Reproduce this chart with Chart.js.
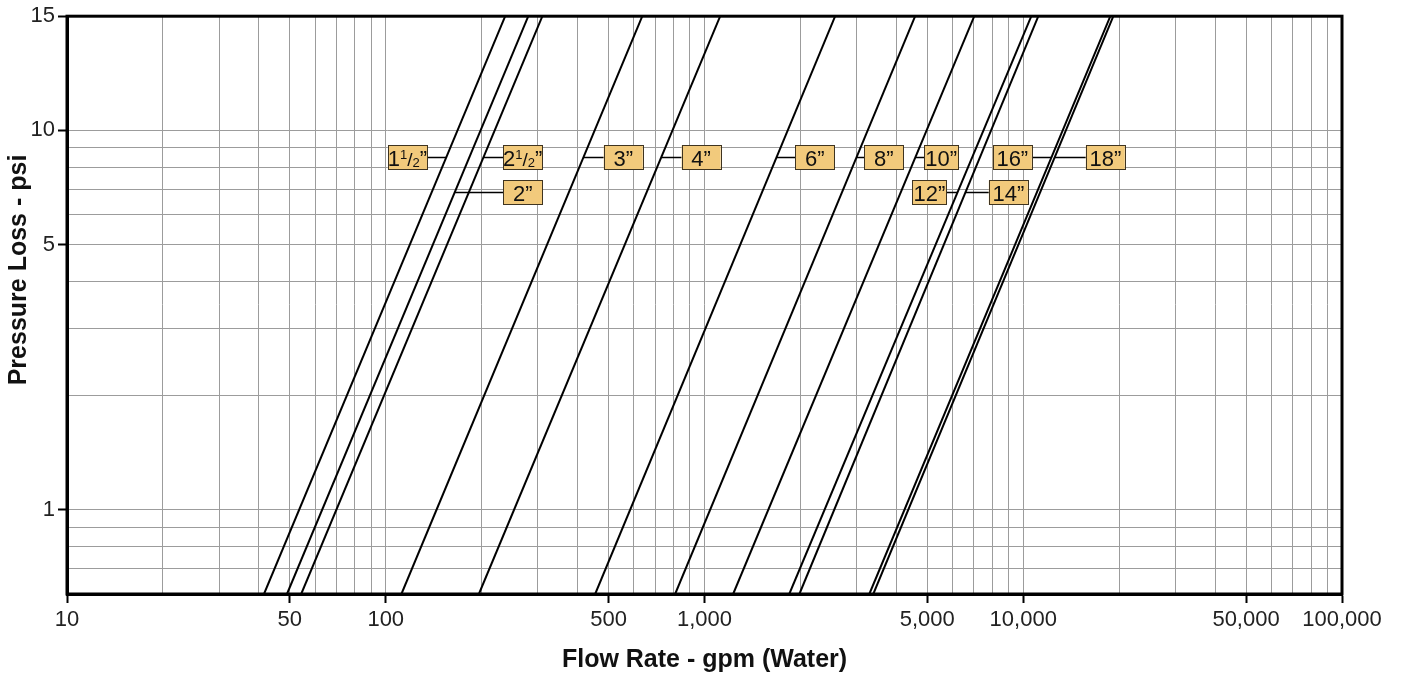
<!doctype html>
<html>

<head>
	<title>Pressure Loss Chart</title>
	<script src="https://cdn.jsdelivr.net/npm/chart.js@4/dist/chart.umd.min.js"></script>
	<style>
	html, body { margin: 0; padding: 0; background: #fff; }
	canvas { display: block; }
	</style>
</head>

<body>
	<canvas id="loss-canvas" width="1405" height="679"></canvas>
	<script>
	// pipe sizes (inches) and flow (gpm) where each curve crosses 0.6 psi and 20 psi
	var sizeNames = ['1\u00bd', '2', '2\u00bd', '3', '4', '6', '8', '10', '12', '14', '16', '18'];
	var flowLow  = [41.5, 49, 54.3, 112, 196, 454, 809, 1230, 1845, 1985, 3290, 3385];
	var flowHigh = [237, 280, 310, 638, 1120, 2570, 4580, 7020, 10600, 11150, 18760, 19170];
	var psiLow = 0.6;
	var psiHigh = 20;

	// where the size tags sit (gpm, psi)
	var labelFlow = [117, 269, 269, 556, 976, 2217, 3651, 5531, 5073, 8979, 9239, 18090];
	var labelPsi  = [8.5, 6.9, 8.5, 8.5, 8.5, 8.5, 8.5, 8.5, 6.9, 6.9, 8.5, 8.5];

	var xGrid = [10, 20, 30, 40, 50, 60, 70, 80, 90, 100, 200, 300, 400, 500, 600, 700, 800, 900,
		1000, 2000, 3000, 4000, 5000, 6000, 7000, 8000, 9000, 10000, 20000, 30000, 40000, 50000,
		60000, 70000, 80000, 90000, 100000];
	var xLabeled = [10, 50, 100, 500, 1000, 5000, 10000, 50000, 100000];
	var yGrid = [0.6, 0.7, 0.8, 0.9, 1, 2, 3, 4, 5, 6, 7, 8, 9, 10, 20];
	var yLabels = { 20: '15', 10: '10', 5: '5', 1: '1' };

	var FONT = '"Liberation Sans", Arial, Helvetica, sans-serif';

	function flowAt(i, psi) {
		var t = (Math.log(psi) - Math.log(psiLow)) / (Math.log(psiHigh) - Math.log(psiLow));
		return Math.exp(Math.log(flowLow[i]) + t * (Math.log(flowHigh[i]) - Math.log(flowLow[i])));
	}

	function pieces(name) {
		if (name.charAt(name.length - 1) === '\u00bd') {
			return [
				{ t: name.charAt(0), s: 22, dy: 0 },
				{ t: '1', s: 13, dy: -7 },
				{ t: '/', s: 19, dy: 0 },
				{ t: '2', s: 13, dy: 1 },
				{ t: '\u201d', s: 22, dy: 0 }
			];
		}
		return [{ t: name + '\u201d', s: 22, dy: 0 }];
	}

	var datasets = sizeNames.map(function(name, i) {
		return {
			label: name,
			data: [{ x: flowLow[i], y: psiLow }, { x: flowHigh[i], y: psiHigh }],
			borderColor: '#000',
			borderWidth: 2,
			pointRadius: 0,
			tension: 0,
			fill: false
		};
	});

	var annotate = {
		id: 'annotate',
		afterDatasetsDraw: function(chart) {
			var c = chart.ctx, xs = chart.scales.x, ys = chart.scales.y, a = chart.chartArea;
			c.save();
			c.strokeStyle = '#000';
			c.lineWidth = 3;
			c.strokeRect(a.left, a.top, a.right - a.left, a.bottom - a.top);

			sizeNames.forEach(function(name, i) {
				var cx = xs.getPixelForValue(labelFlow[i]);
				var cy = Math.round(ys.getPixelForValue(labelPsi[i])) + 0.5;
				var w = (name === '10' || name === '12') ? 34 : 39;
				var h = 24;
				var lx = xs.getPixelForValue(flowAt(i, labelPsi[i]));
				var edge = lx < cx ? cx - w / 2 : cx + w / 2;

				c.strokeStyle = '#000';
				c.lineWidth = 1.5;
				c.beginPath();
				c.moveTo(lx, cy);
				c.lineTo(edge, cy);
				c.stroke();

				c.fillStyle = '#f2ca7c';
				c.fillRect(cx - w / 2, cy - h / 2, w, h);
				c.strokeStyle = '#3f3420';
				c.lineWidth = 1;
				c.strokeRect(Math.round(cx - w / 2) + 0.5, cy - h / 2, w, h);

				var parts = pieces(name), total = 0;
				parts.forEach(function(p) {
					c.font = p.s + 'px ' + FONT;
					p.w = c.measureText(p.t).width;
					total += p.w;
				});
				var x = cx - total / 2;
				c.fillStyle = '#111';
				c.textBaseline = 'alphabetic';
				c.textAlign = 'left';
				parts.forEach(function(p) {
					c.font = p.s + 'px ' + FONT;
					c.fillText(p.t, x, cy + 8 + p.dy);
					x += p.w;
				});
			});

			// y axis title, set a little above centre as in the original
			c.translate(19, 270);
			c.rotate(-Math.PI / 2);
			c.font = 'bold 25px ' + FONT;
			c.fillStyle = '#111';
			c.textAlign = 'center';
			c.textBaseline = 'middle';
			c.fillText('Pressure Loss - psi', 0, 0);
			c.restore();
		}
	};

	var lossConfig = {
		type: 'line',
		data: { datasets: datasets },
		options: {
			responsive: false,
			animation: false,
			devicePixelRatio: 1,
			layout: { padding: { top: 12, right: 63, left: 0, bottom: 0 } },
			plugins: { legend: { display: false }, tooltip: { enabled: false } },
			scales: {
				x: {
					type: 'logarithmic',
					min: 10,
					max: 100000,
					afterBuildTicks: function(scale) {
						scale.ticks = xGrid.map(function(v) { return { value: v }; });
					},
					afterFit: function(scale) { scale.height = 85; },
					grid: {
						color: '#9c9c9c',
						lineWidth: 1,
						tickLength: 9,
						tickWidth: 2,
						tickColor: function(ctx) {
							return ctx.tick && xLabeled.indexOf(ctx.tick.value) >= 0 ? '#000' : 'rgba(0,0,0,0)';
						}
					},
					border: { color: '#000', width: 3 },
					ticks: {
						autoSkip: false,
						maxRotation: 0,
						padding: 4,
						color: '#222',
						font: { family: FONT, size: 22 },
						callback: function(v) {
							return xLabeled.indexOf(v) >= 0 ? v.toLocaleString('en-US') : '';
						}
					},
					title: {
						display: true,
						text: 'Flow Rate - gpm (Water)',
						color: '#111',
						font: { family: FONT, size: 25, weight: 'bold' },
						padding: { top: 0, bottom: 4 }
					}
				},
				y: {
					type: 'logarithmic',
					min: psiLow,
					max: psiHigh,
					afterBuildTicks: function(scale) {
						scale.ticks = yGrid.map(function(v) { return { value: v }; });
					},
					afterFit: function(scale) { scale.width = 67; },
					grid: {
						color: '#9c9c9c',
						lineWidth: 1,
						tickLength: 9,
						tickWidth: 2,
						tickColor: function(ctx) {
							return ctx.tick && yLabels[ctx.tick.value] ? '#000' : 'rgba(0,0,0,0)';
						}
					},
					border: { color: '#000', width: 3 },
					ticks: {
						autoSkip: false,
						padding: 3,
						color: '#222',
						font: { family: FONT, size: 22 },
						callback: function(v) { return yLabels[v] || ''; }
					},
					title: { display: false }
				}
			}
		},
		plugins: [annotate]
	};

	window.onload = function() {
		var ctx = document.getElementById('loss-canvas').getContext('2d');
		window.lossChart = new Chart(ctx, lossConfig);
	};
	</script>
</body>

</html>
